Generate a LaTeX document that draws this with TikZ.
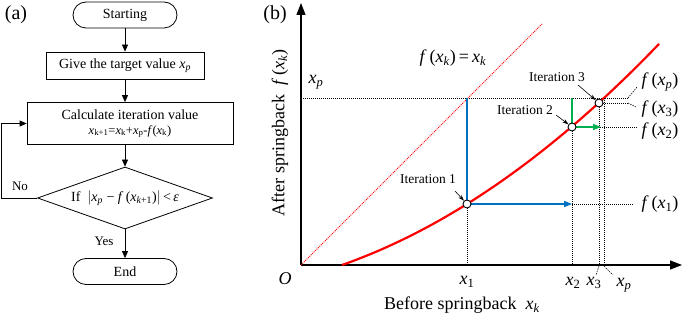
\documentclass[tikz,border=0pt]{standalone}
\usepackage{fontspec}
\setmainfont{Liberation Serif}
\usetikzlibrary{arrows.meta,shapes.geometric}
\definecolor{cblue}{RGB}{0,112,192}
\definecolor{cgreen}{RGB}{0,176,80}
\newcommand{\iv}[1]{\textit{#1}}
\newcommand{\vsub}[2]{\textit{#1}\textsubscript{#2}}
\newcommand{\fof}[1]{\textit{f}\,(#1)}
\begin{document}
\begin{tikzpicture}[x=1pt,y=-1pt,
  ftxt/.style={font=\fontsize{14}{16}\selectfont},
  term/.style={draw,line width=0.8pt,rounded corners=13pt,minimum width=104pt,minimum height=26pt,ftxt,inner sep=0pt},
  proc/.style={draw,line width=0.8pt,ftxt,align=center,inner sep=0pt},
  dec/.style={draw,line width=0.8pt,diamond,aspect=2.82,minimum width=175pt,minimum height=62pt,inner sep=0pt},
  farr/.style={line width=0.8pt,-{Triangle[length=7pt,width=6pt]}},
  axisarr/.style={line width=1.2pt,-{Triangle[length=12pt,width=9pt]}},
  dotl/.style={line width=0.8pt,dash pattern=on 1pt off 1pt},
  lead/.style={line width=0.6pt,dash pattern=on 1.5pt off 1pt},
  big/.style={font=\fontsize{18}{20}\selectfont},
  iter/.style={font=\fontsize{13.5}{15}\selectfont},
  ptarr/.style={line width=0.6pt,-{Stealth[length=6pt,width=4pt]}},
  pt/.style={circle,draw,fill=white,line width=0.9pt,minimum size=8pt,inner sep=0pt}
]
\useasboundingbox (0,0) rectangle (685,320);
% ---------- (a) flowchart ----------
\node[font=\fontsize{20}{22}\selectfont] (la) at (16,15) {(a)};
\node[term] (start) at (125,15) {Starting};
\node[proc,minimum width=158pt,minimum height=27pt] (give) at (125,65.5) {Give the target value \vsub{x}{\iv{p}}};
\node[proc,minimum width=206pt,minimum height=42pt] (calc) at (130,123.5) {Calculate iteration value\\[-1pt]{\fontsize{12.5}{14}\selectfont \vsub{x}{k+1}=\vsub{x}{k}+\vsub{x}{p}-\iv{f}(\vsub{x}{k})}};
\node[dec] (dia) at (125,198) {};
\node[font=\fontsize{14}{16}\selectfont] (dtxt) at (dia.center) {If\ \ $\Bigl|$\vsub{x}{\iv{p}} − \iv{f}\,(\vsub{x}{\iv{k}+1})$\Bigr|$\,<\,\iv{ε}};
\node[term] (end) at (125,271.5) {End};
\draw[farr] (start) -- (give);
\draw[farr] (give.south) -- (give.south |- calc.north);
\draw[farr] (give.south |- calc.south) -- (dia.north);
\draw[farr] (dia.south) -- (end.north);
\draw[farr] (dia.west) -- ++(-35.5,0) |- (calc.west);
\node[font=\fontsize{13}{15}\selectfont] (no) at (20,186) {No};
\node[font=\fontsize{13}{15}\selectfont] (yes) at (104,241) {Yes};
% ---------- (b) plot ----------
\node[font=\fontsize{20}{22}\selectfont] (lb) at (275,15) {(b)};
\coordinate (O) at (301,265);
\draw[axisarr] (O) -- (682,265);
\draw[axisarr] (O) -- (301,3);
% y = x
\draw[red,line width=1pt,dash pattern=on 1pt off 1pt] (O) -- (542,24);
% x_p level
\draw[dotl] (301,98) -- (628,98);
% curve
\draw[red,line width=2.2pt] plot[domain=342:659,samples=80] (\x,{265-(0.3517*(\x-342)+(0.033024*(\x-342))^2)});
% points
\coordinate (p1) at (467,204);
\coordinate (p2) at (572,127);
\coordinate (p3) at (599,103);
\coordinate (pp) at (604,98);
% vertical dotted
\draw[dotl] (p1) -- (467,265);
\draw[dotl] (p2) -- (572,265);
\draw[dotl] (p3) -- (599,265);
\draw[dotl] (pp) -- (604,265);
% horizontal dotted
\draw[dotl] (572,204) -- (633,204);
\draw[dotl] (600,127) -- (637,127);
\draw[dotl] (p3) -- (628,103);
% blue
\draw[cblue,line width=1.6pt] (467,98) -- (p1);
\draw[cblue,line width=1.6pt,-{Triangle[length=8pt,width=6pt]}] (p1) -- (572,204);
% green
\draw[cgreen,line width=1.6pt] (572,98) -- (p2);
\draw[cgreen,line width=1.6pt,-{Triangle[length=8pt,width=6pt]}] (p2) -- (601,127);
\node[pt] (c1) at (p1) {};
\node[pt] (c2) at (p2) {};
\node[pt] (c3) at (p3) {};
% iteration labels
\node[iter] (i1) at (428,179) {Iteration 1};
\node[iter] (i2) at (525,110) {Iteration 2};
\node[iter] (i3) at (557,77) {Iteration 3};
\draw[ptarr] (455,191) -- (c1);
\draw[ptarr] (556,115) -- (c2);
\draw[ptarr] (578,85) -- (c3);
% right labels
\node[big,anchor=west] (fxp) at (638,82) {\fof{\vsub{x}{\iv{p}}}};
\node[big,anchor=west] (fx3) at (638,109) {\fof{\vsub{x}{3}}};
\node[big,anchor=west] (fx2) at (638,131) {\fof{\vsub{x}{2}}};
\node[big,anchor=west] (fx1) at (638,204) {\fof{\vsub{x}{1}}};
\draw[lead] (628,98) -- (637,87);
\draw[lead] (628,103) -- (636,107);
% axis labels
\node[big] (xp0) at (316,82) {\vsub{x}{\iv{p}}};
\node[big] (O0) at (285,279) {\iv{O}};
\node[big] (x1) at (467,282) {\vsub{x}{1}};
\node[big] (x2) at (573,283) {\vsub{x}{2}};
\node[big] (x3) at (594,283) {\vsub{x}{3}};
\node[big] (xpl) at (624,285) {\vsub{x}{\iv{p}}};
\draw[lead] (599,266) -- (596,275);
\draw[lead] (604,266) -- (613,275);
\node[big] (fxk) at (453,58) {\fof{\vsub{x}{\iv{k}}}\,=\,\vsub{x}{\iv{k}}};
\node[big,rotate=90] (ylab) at (280,133) {After springback\ \ \fof{\vsub{x}{\iv{k}}}};
\node[big] (xlab) at (462,305) {Before springback\ \ \vsub{x}{\iv{k}}};
\end{tikzpicture}
\end{document}
